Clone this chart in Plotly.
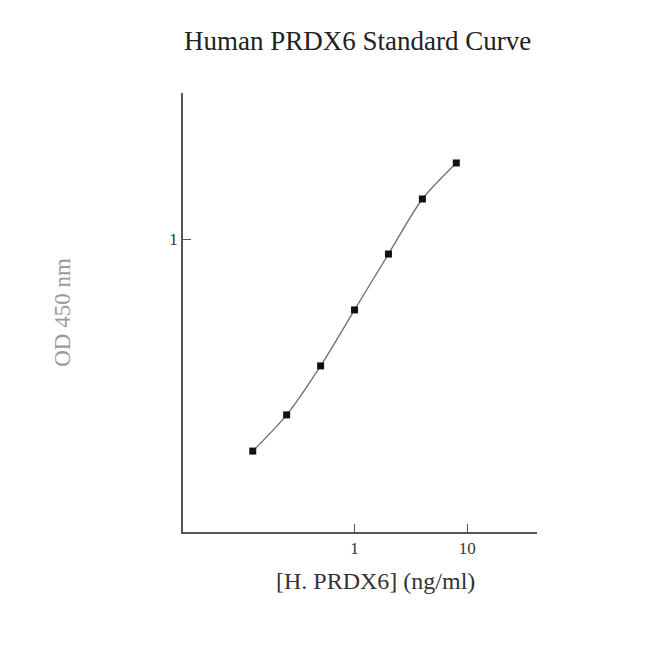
import plotly.graph_objects as go

conc = [0.125, 0.25, 0.5, 1, 2, 4, 8]
od = [0.087, 0.132, 0.232, 0.442, 0.841, 1.585, 2.40]
x_ticks = [1, 10]
y_ticks = [1]

fig = go.Figure()
fig.add_trace(go.Scatter(
    x=conc, y=od, mode="lines+markers",
    line=dict(color="#6e6e6e", width=1.3, shape="spline", smoothing=0.8),
    marker=dict(symbol="square", size=7, color="#111111"),
    showlegend=False,
))

serif = "Liberation Serif, Times New Roman, serif"
fig.update_layout(
    width=650, height=672,
    margin=dict(l=175, r=121, t=85, b=148),
    paper_bgcolor="white", plot_bgcolor="white",
    title=dict(text="Human PRDX6 Standard Curve", x=0.538, xanchor="center",
               y=0.952, yanchor="middle",
               font=dict(family=serif, size=27, color="#222222")),
    xaxis=dict(type="log", range=[-1.522, 1.619], tickvals=x_ticks,
               ticktext=[str(v) for v in x_ticks],
               ticks="inside", ticklen=8, tickcolor="#555555", tickwidth=1.2,
               showline=True, linecolor="#555555", linewidth=1.6,
               showgrid=False, zeroline=False,
               tickfont=dict(family=serif, size=17, color="#333333")),
    yaxis=dict(type="log", range=[-1.465, 0.73], tickvals=y_ticks,
               ticktext=[str(v) for v in y_ticks],
               ticks="inside", ticklen=8, tickcolor="#555555", tickwidth=1.2,
               showline=True, linecolor="#555555", linewidth=1.6,
               showgrid=False, zeroline=False,
               tickfont=dict(family=serif, size=17, color="#333333"),
               title=dict(text="OD 450 nm", standoff=92,
                          font=dict(family=serif, size=23, color="#9a9a9a"))),
    annotations=[dict(text="[H. PRDX6] (ng/ml)", xref="paper", yref="paper",
                      x=0.545, y=-0.112, xanchor="center", yanchor="middle",
                      showarrow=False,
                      font=dict(family=serif, size=24, color="#333333"))],
)
fig.write_html("out.html")
